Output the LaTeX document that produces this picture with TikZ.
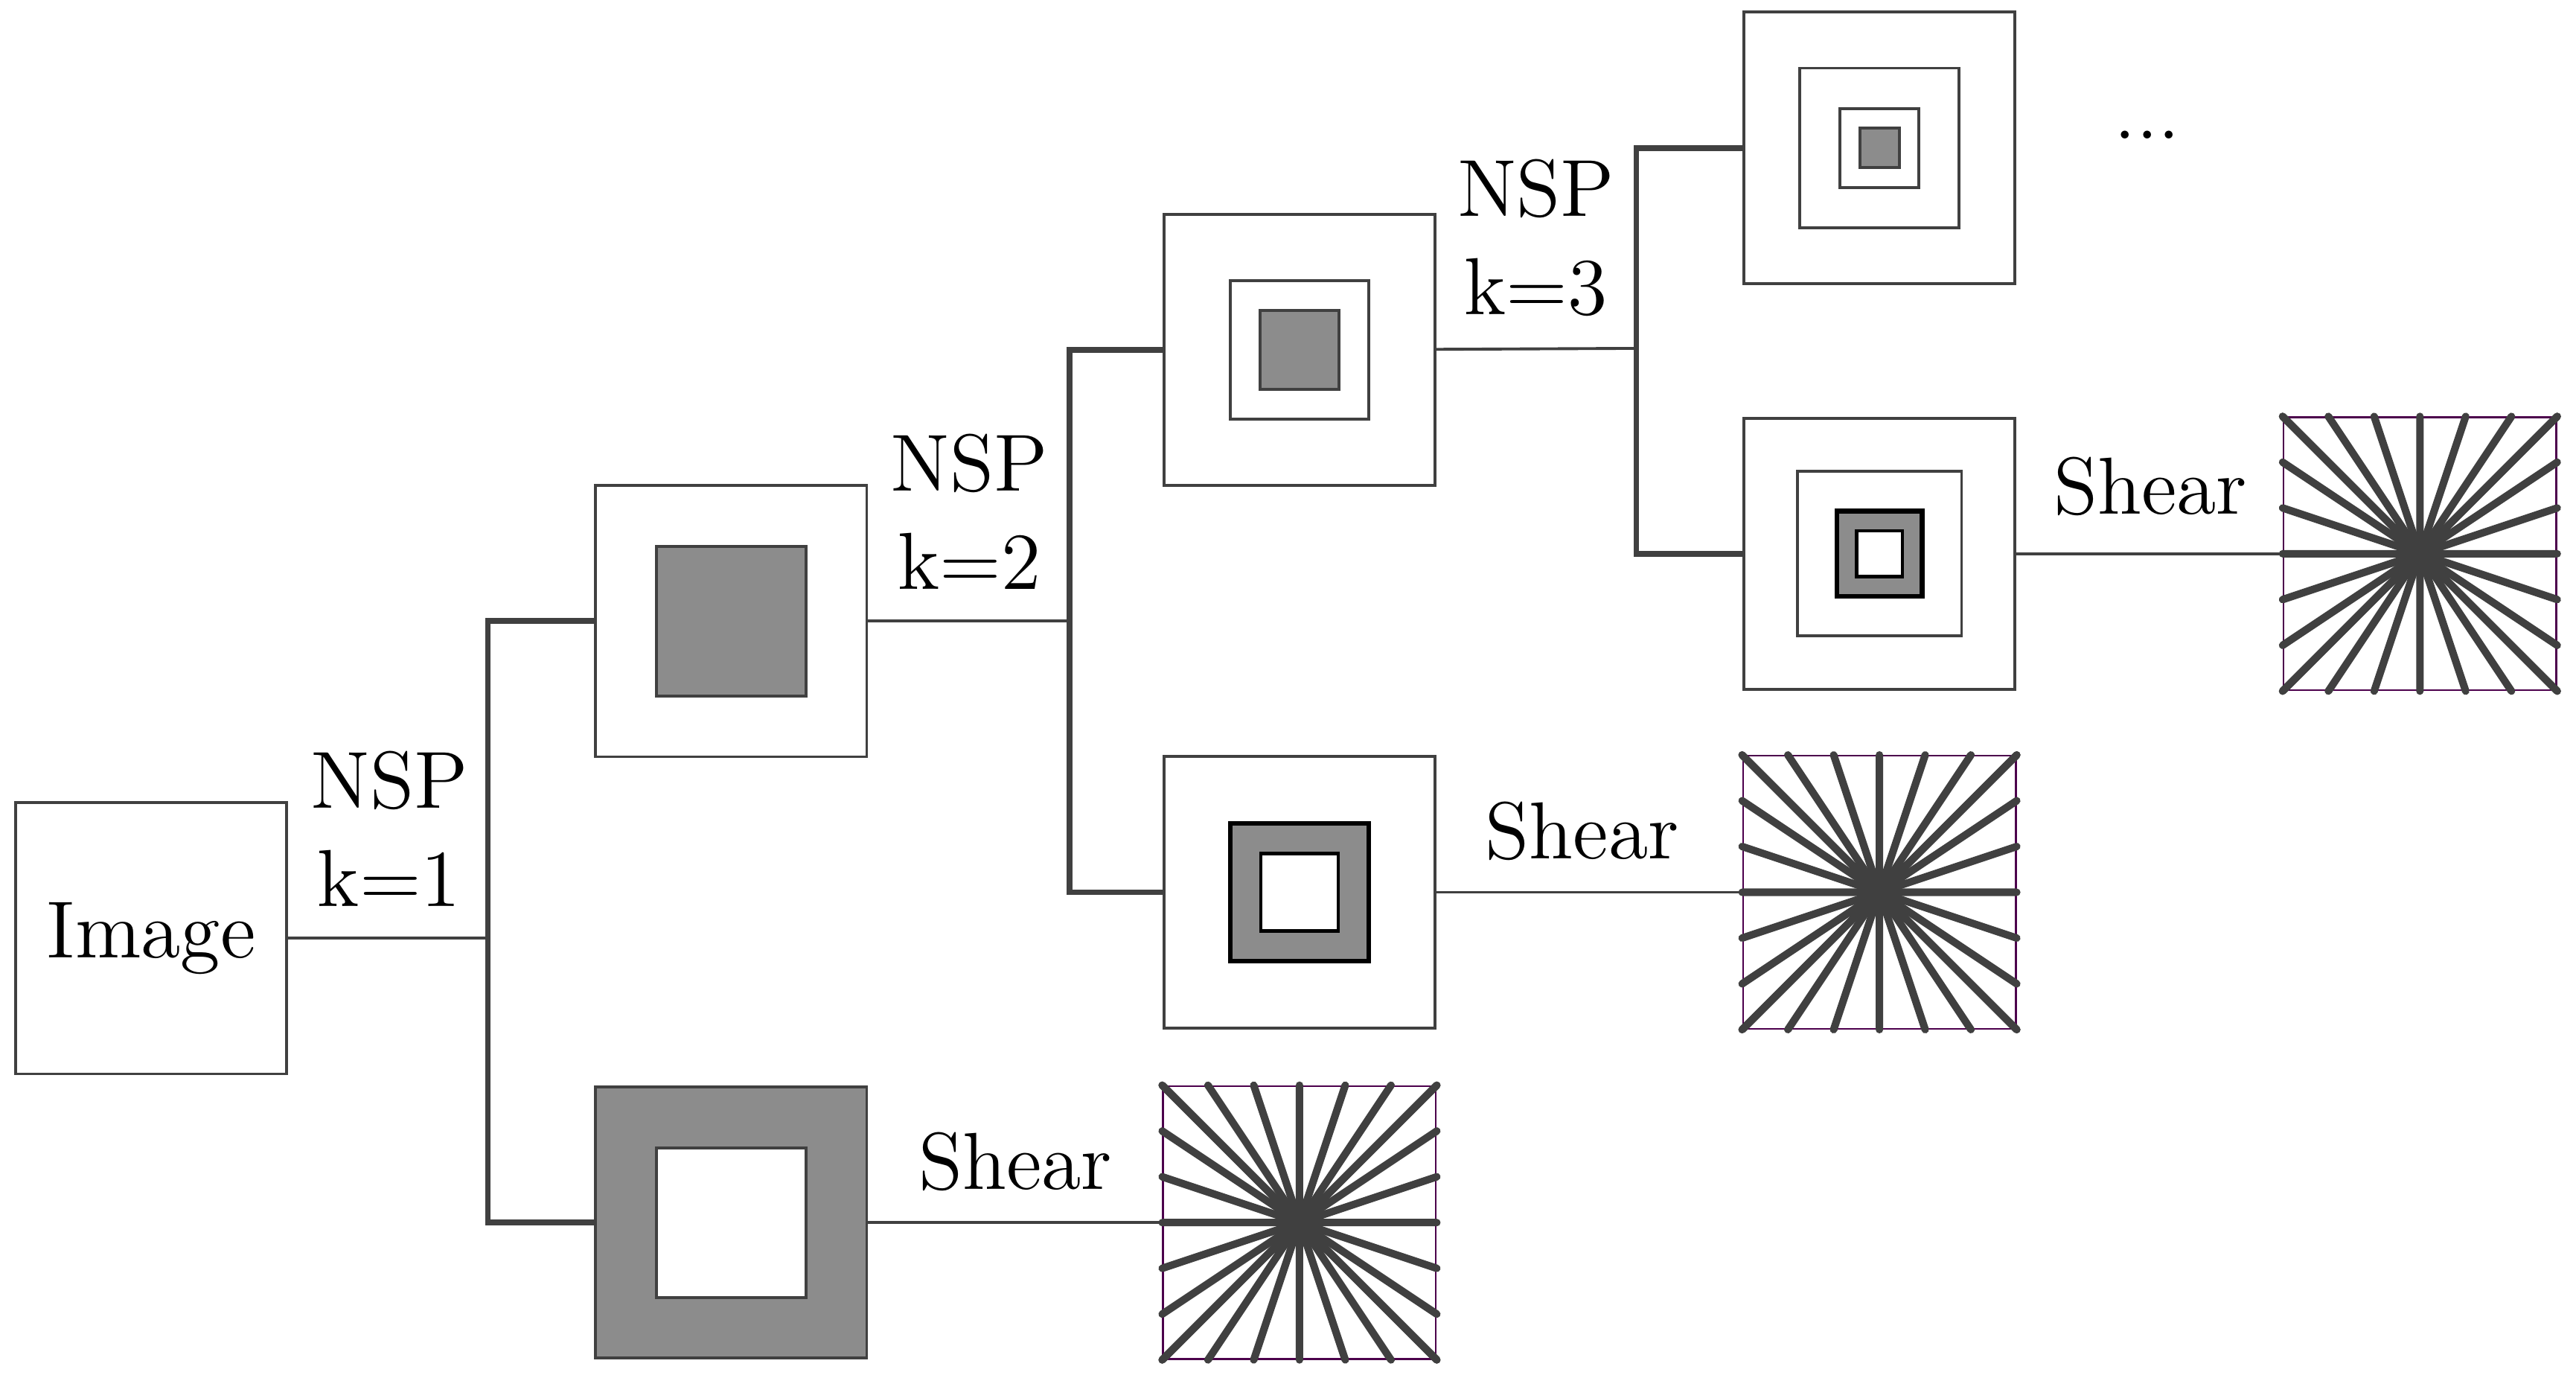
\documentclass[tikz,border=0pt]{standalone}
\usetikzlibrary{positioning}
\usetikzlibrary{calc}
\definecolor{dgray}{HTML}{404040}
\definecolor{mgray}{HTML}{8C8C8C}
\tikzset{%
	% Specifications for style of nodes:
	base/.style = {rectangle, draw=dgray, line width=0.5pt, inner sep=0pt, minimum size=1.65cm, fill=white},
	frame/.style = {base},
	band/.style = {base, fill=mgray},
	sq/.style = {rectangle, draw=dgray, line width=0.5pt, inner sep=0pt, fill=white},
	gsq/.style = {sq, fill=mgray},
	bsq/.style = {rectangle, draw=black, line width=0.8pt, inner sep=0pt, fill=mgray},
	wsq/.style = {rectangle, draw=black, line width=0.6pt, inner sep=0pt, fill=white},
	shear/.style = {rectangle, draw=violet!60!black, line width=0.3pt, inner sep=0pt, minimum size=1.66cm},
	spoke/.style = {draw=dgray, line width=1.3pt, line cap=round},
	link/.style = {draw=dgray, line width=0.5pt},
	trunk/.style = {draw=dgray, line width=1pt},
	lbl/.style = {font=\fontsize{14}{17}\selectfont, align=center},
}
\newcommand{\spokes}[1]{%
	\foreach \i in {0,...,6} {
		\draw [spoke] (#1.center) -- ($(#1.north west)!\i/6!(#1.north east)$);
		\draw [spoke] (#1.center) -- ($(#1.south west)!\i/6!(#1.south east)$);
		\draw [spoke] (#1.center) -- ($(#1.north west)!\i/6!(#1.south west)$);
		\draw [spoke] (#1.center) -- ($(#1.north east)!\i/6!(#1.south east)$);
	}
}
\begin{document}
\begin{tikzpicture}[x=0.01cm,y=-0.01cm]
		\useasboundingbox (0,0) rectangle (1568,840);
		\node (Img) [frame, lbl] at (92,571) {Image};
		
		\node (P1) [frame] at (445,378) {};
		\node (P1g) [gsq, minimum size=0.91cm] at (P1) {};
		\node (Q1) [band] at (445,744) {};
		\node (Q1w) [sq, minimum size=0.91cm] at (Q1) {};
		\node (S1) [shear] at (791,744) {};
		
		\node (P2) [frame] at (791,213) {};
		\node (P2w) [sq, minimum size=0.84cm] at (P2) {};
		\node (P2g) [gsq, minimum size=0.48cm] at (P2) {};
		\node (Q2) [frame] at (791,543) {};
		\node (Q2g) [bsq, minimum size=0.84cm] at (Q2) {};
		\node (Q2w) [wsq, minimum size=0.47cm] at (Q2) {};
		\node (S2) [shear] at (1144,543) {};
		
		\node (P3) [frame] at (1144,90) {};
		\node (P3a) [sq, minimum size=0.97cm] at (P3) {};
		\node (P3b) [sq, minimum size=0.48cm] at (P3) {};
		\node (P3g) [gsq, minimum size=0.24cm] at (P3) {};
		\node (Q3) [frame] at (1144,337) {};
		\node (Q3a) [sq, minimum size=1.00cm] at (Q3) {};
		\node (Q3g) [bsq, minimum size=0.52cm] at (Q3) {};
		\node (Q3w) [wsq, minimum size=0.28cm] at (Q3) {};
		\node (S3) [shear] at (1473,337) {};
		
		\node (Dots) [lbl] at (1307,82) {...};
		
		\spokes{S1}
		\spokes{S2}
		\spokes{S3}
		
		\coordinate (J1) at (297,571);
		\coordinate (J2) at (651,378);
		\coordinate (J3) at (996,212);
		
		\draw [link] (Img) -- (J1);
		\draw [trunk] (P1.west) -| (J1) |- (Q1.west);
		\node (N1) [lbl, above=2pt of J1, xshift=-0.6cm] {NSP\\k=1};
		
		\draw [link] (P1) -- (J2);
		\draw [trunk] (P2.west) -| (J2) |- (Q2.west);
		\node (N2) [lbl, above=2pt of J2, xshift=-0.61cm] {NSP\\k=2};
		
		\draw [link] (P2) -- (J3);
		\draw [trunk] (P3.west) -| (J3) |- (Q3.west);
		\node (N3) [lbl, above=2pt of J3, xshift=-0.61cm] {NSP\\k=3};
		
		\draw [link] (Q1) -- (S1);
		\draw [link] (Q2) -- (S2);
		\draw [link] (Q3) -- (S3);
		\node (T1) [lbl] at (618,707) {Shear};
		\node (T2) [lbl] at (963,506) {Shear};
		\node (T3) [lbl] at (1309,296) {Shear};
\end{tikzpicture}
\end{document}
